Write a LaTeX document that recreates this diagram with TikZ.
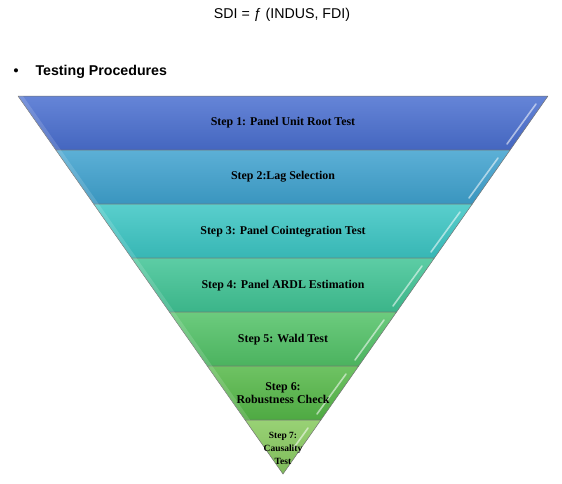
\documentclass[tikz,border=0pt]{standalone}
\usepackage{fontspec}
\setmainfont{Liberation Serif}
\newfontfamily\arialfont{Liberation Sans}
\definecolor{bandA}{HTML}{4A6FD0}
\definecolor{bandB}{HTML}{3FA2CF}
\definecolor{bandC}{HTML}{3CC6C4}
\definecolor{bandD}{HTML}{40C495}
\definecolor{bandE}{HTML}{52C267}
\definecolor{bandF}{HTML}{55B848}
\definecolor{bandG}{HTML}{8ACB62}
\begin{document}
\begin{tikzpicture}
[x=1pt, y=-1pt,
 band/.style={draw=black!55, line width=0.5pt, line join=round},
 shine/.style={white, opacity=0.55, line width=1.6pt, line cap=round},
 edge/.style={fill=white, fill opacity=0.14, draw=none},
 steptext/.style={font=\bfseries\fontsize{11.9}{13}\selectfont, align=center, text=black}]
\useasboundingbox (0,0) rectangle (562,483);
% edge points of the funnel
\coordinate (L0) at (18,96);      \coordinate (R0) at (548,96);
\coordinate (L1) at (55.86,150);  \coordinate (R1) at (510.14,150);
\coordinate (L2) at (93.71,204);  \coordinate (R2) at (472.29,204);
\coordinate (L3) at (131.57,258); \coordinate (R3) at (434.43,258);
\coordinate (L4) at (169.43,312); \coordinate (R4) at (396.57,312);
\coordinate (L5) at (207.29,366); \coordinate (R5) at (358.71,366);
\coordinate (L6) at (245.14,420); \coordinate (R6) at (320.86,420);
\coordinate (A) at (283,474);
% bands
\shade [band, top color=bandA!85!white, bottom color=bandA!92!black] (L0) -- (R0) -- (R1) -- (L1) -- cycle;
\shade [band, top color=bandB!85!white, bottom color=bandB!92!black] (L1) -- (R1) -- (R2) -- (L2) -- cycle;
\shade [band, top color=bandC!85!white, bottom color=bandC!92!black] (L2) -- (R2) -- (R3) -- (L3) -- cycle;
\shade [band, top color=bandD!85!white, bottom color=bandD!92!black] (L3) -- (R3) -- (R4) -- (L4) -- cycle;
\shade [band, top color=bandE!85!white, bottom color=bandE!92!black] (L4) -- (R4) -- (R5) -- (L5) -- cycle;
\shade [band, top color=bandF!85!white, bottom color=bandF!92!black] (L5) -- (R5) -- (R6) -- (L6) -- cycle;
\shade [band, top color=bandG!88!white, bottom color=bandG!92!black] (L6) -- (R6) -- (A) -- cycle;
% bevel on the left
\fill [edge] (L0) -- ([xshift=5]L0) -- ([xshift=5]L1) -- (L1) -- cycle;
\fill [edge] (L1) -- ([xshift=5]L1) -- ([xshift=5]L2) -- (L2) -- cycle;
\fill [edge] (L2) -- ([xshift=5]L2) -- ([xshift=5]L3) -- (L3) -- cycle;
\fill [edge] (L3) -- ([xshift=5]L3) -- ([xshift=5]L4) -- (L4) -- cycle;
\fill [edge] (L4) -- ([xshift=5]L4) -- ([xshift=5]L5) -- (L5) -- cycle;
\fill [edge] (L5) -- ([xshift=5]L5) -- ([xshift=5]L6) -- (L6) -- cycle;
% shine on the right
\draw [shine] (536,104) -- (507,144);
\draw [shine] (498,158) -- (469,198);
\draw [shine] (460,212) -- (431,252);
\draw [shine] (422,266) -- (393,306);
\draw [shine] (384,320) -- (355,360);
\draw [shine] (346,374) -- (317,414);
\draw [shine] (308,428) -- (293,449);
% labels
\node [steptext] (s1) at (283,123) {Step 1: Panel Unit Root Test};
\node [steptext] (s2) at (283,177) {Step 2:Lag Selection};
\node [steptext] (s3) at (283,232) {Step 3: Panel Cointegration Test};
\node [steptext] (s4) at (283,286) {Step 4: Panel ARDL Estimation};
\node [steptext] (s5) at (283,340) {Step 5: Wald Test};
\node [steptext] (s6) at (283,393) {Step 6:\\Robustness Check};
\node [steptext, font=\bfseries\fontsize{9.5}{13}\selectfont] (s7) at (283,448) {Step 7:\\Causality\\Test};
\node [font=\arialfont\fontsize{14.2}{16}\selectfont] (title) at (282,15) {SDI = ƒ (INDUS, FDI)};
\node [font=\arialfont\bfseries\fontsize{14.2}{16}\selectfont, right] (tp) at (32,72) {Testing Procedures};
\node [font=\arialfont\bfseries\fontsize{14.2}{16}\selectfont] (dot) at (16,72) {•};
\end{tikzpicture}
\end{document}
